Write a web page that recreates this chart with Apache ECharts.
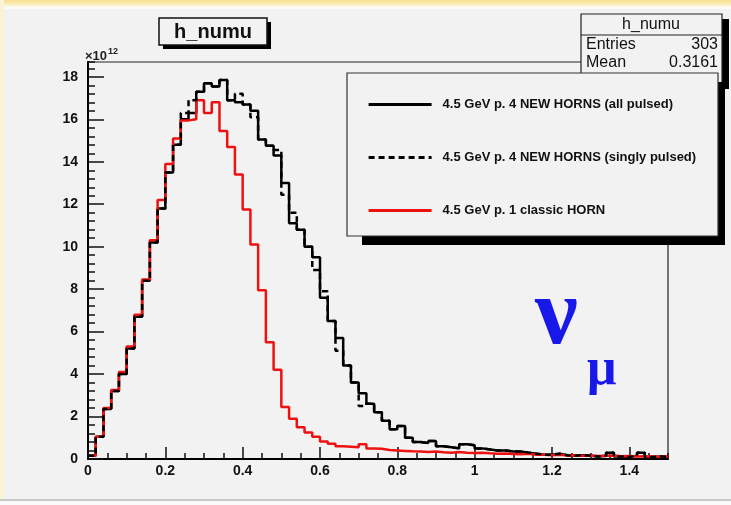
<!DOCTYPE html>
<html><head><meta charset="utf-8">
<script src="https://cdn.jsdelivr.net/npm/echarts@6/dist/echarts.min.js"></script>
<style>html,body{margin:0;padding:0;background:#f2f2f2;}#c{width:731px;height:505px;}</style>
</head><body><div id="c"></div>
<script>
// Histogram binning (75 bins of width 0.02 from 0 to 1.5)
const binStart = 0;
const binWidth = 0.02;

const seriesNames = [
  '4.5 GeV p. 4 NEW HORNS (all pulsed)',
  '4.5 GeV p. 4 NEW HORNS (singly pulsed)',
  '4.5 GeV p. 1 classic HORN'
];

// values in units of 1e12
const allPulsed = [
  0.15,1.05,2.35,3.2,4.0,5.2,6.7,8.4,10.2,11.8,
  13.5,14.8,16.0,16.3,17.3,17.7,17.55,17.85,16.9,16.8,
  16.7,16.4,15.05,14.75,14.3,13.0,11.1,10.8,10.0,9.5,
  7.6,6.5,5.7,4.4,3.6,3.1,2.6,2.2,1.8,1.4,
  1.55,1.0,0.8,0.75,0.85,0.6,0.55,0.5,0.7,0.65,
  0.5,0.45,0.4,0.4,0.35,0.35,0.3,0.25,0.2,0.2,
  0.25,0.18,0.15,0.18,0.15,0.12,0.15,0.3,0.12,0.1,
  0.15,0.3,0.1,0.12,0.1
];
const singlyPulsed = [
  0.15,1.05,2.35,3.2,4.0,5.2,6.7,8.4,10.2,11.8,
  13.5,14.8,16.3,16.9,17.3,17.7,17.55,17.85,16.9,17.2,
  16.7,16.1,15.05,14.75,14.55,12.45,11.6,10.8,10.0,8.9,
  7.9,6.5,5.1,4.4,3.6,2.5,2.6,2.2,1.8,1.4,
  1.55,1.0,0.8,0.75,0.85,0.6,0.55,0.5,0.7,0.65,
  0.5,0.45,0.4,0.4,0.35,0.35,0.3,0.25,0.2,0.2,
  0.25,0.18,0.15,0.18,0.15,0.12,0.15,0.3,0.12,0.1,
  0.15,0.3,0.1,0.12,0.1
];
const classicHorn = [
  0.15,1.05,2.4,3.25,4.1,5.3,6.8,8.45,10.3,12.2,
  13.9,15.1,15.95,16.0,16.9,16.3,16.8,15.45,14.7,13.4,
  11.75,10.1,7.95,5.5,4.2,2.45,1.9,1.5,1.25,1.05,
  0.82,0.72,0.6,0.58,0.55,0.7,0.5,0.48,0.42,0.4,
  0.38,0.36,0.35,0.33,0.35,0.32,0.3,0.33,0.3,0.28,
  0.3,0.27,0.25,0.26,0.24,0.22,0.25,0.2,0.2,0.18,
  0.2,0.17,0.18,0.15,0.17,0.14,0.15,0.16,0.13,0.14,
  0.12,0.13,0.12,0.11,0.12
];

const xTickLabels = ['0','0.2','0.4','0.6','0.8','1','1.2','1.4'];
const yTickLabels = ['0','2','4','6','8','10','12','14','16','18'];

const statsTitle = 'h_numu';
const statsRows = [['Entries','303'],['Mean','0.3161']];
const histTitle = 'h_numu';

function toSteps(vals){
  const pts = vals.map((v,i)=>[binStart + i*binWidth, v]);
  pts.push([binStart + vals.length*binWidth, vals[vals.length-1]]);
  return pts;
}

const FONT = 'Liberation Sans, Arial, Helvetica, sans-serif';
const SERIF = 'Liberation Serif, DejaVu Serif, serif';
const chart = echarts.init(document.getElementById('c'), null, {renderer:'canvas'});

const labelStyle = {fontFamily:FONT, fontWeight:'bold', fontSize:14, color:'#111'};

chart.setOption({
  animation:false,
  backgroundColor:'#f2f2f2',
  grid:{left:88, right:63, top:62, bottom:46, show:true, borderColor:'#222', borderWidth:1.2, backgroundColor:'transparent'},
  xAxis:[{
    type:'value', min:0, max:1.5, interval:0.2, position:'bottom',
    axisLine:{lineStyle:{color:'#000', width:2}},
    axisTick:{inside:true, length:12, lineStyle:{color:'#111', width:1.5}},
    splitLine:{show:false},
    axisLabel:Object.assign({margin:5, showMaxLabel:false,
      formatter:(v)=>{const s=String(+v.toFixed(2)); return xTickLabels.includes(s)?s:'';}}, labelStyle)
  },{
    type:'value', min:0, max:1.5, interval:0.05, position:'bottom',
    axisLine:{show:false},
    axisTick:{inside:true, length:6, lineStyle:{color:'#111', width:1.5}},
    splitLine:{show:false}, axisLabel:{show:false}
  }],
  yAxis:[{
    type:'value', min:0, max:18.7, interval:2, position:'left',
    axisLine:{show:true, lineStyle:{color:'#000', width:2}},
    axisTick:{show:true, inside:true, length:16, lineStyle:{color:'#111', width:1.5}},
    splitLine:{show:false},
    axisLabel:Object.assign({margin:10, showMaxLabel:false,
      formatter:(v)=>{const s=String(Math.round(v)); return (yTickLabels.includes(s) && Math.abs(v-Math.round(v))<1e-6)?s:'';}}, labelStyle)
  },{
    type:'value', min:0, max:18.7, interval:0.4, position:'left',
    axisLine:{show:false},
    axisTick:{show:true, inside:true, length:7, lineStyle:{color:'#111', width:1.5}},
    splitLine:{show:false}, axisLabel:{show:false}
  }],
  legend:{
    left:362, top:93, orient:'vertical', itemWidth:63, itemHeight:14, itemGap:40,
    selectedMode:false, z:60,
    data:seriesNames,
    itemStyle:{color:'rgba(0,0,0,0)', borderWidth:0, opacity:0},
    lineStyle:{width:3.2},
    textStyle:{fontFamily:FONT, fontWeight:'bold', fontSize:13, color:'#111', padding:[0,0,0,6]}
  },
  series:[
    {name:seriesNames[0], type:'line', step:'end', symbol:'none', z:2, xAxisIndex:0, yAxisIndex:0,
     lineStyle:{color:'#000', width:2.5}, itemStyle:{color:'#000'}, data:toSteps(allPulsed)},
    {name:seriesNames[1], type:'line', step:'end', symbol:'none', z:4, xAxisIndex:0, yAxisIndex:0,
     lineStyle:{color:'#000', width:2.5, type:[6,4]}, itemStyle:{color:'#000'}, data:toSteps(singlyPulsed)},
    {name:seriesNames[2], type:'line', step:'end', symbol:'none', z:3, xAxisIndex:0, yAxisIndex:0,
     lineStyle:{color:'#ee1111', width:2.5}, itemStyle:{color:'#ee1111'}, data:toSteps(classicHorn)}
  ],
  graphic:[
    // window decorations
    {type:'rect', z:1, shape:{x:0,y:0,width:731,height:7}, style:{fill:new echarts.graphic.LinearGradient(0,0,0,1,[{offset:0,color:'#f7df8a'},{offset:0.7,color:'#fbefc4'},{offset:1,color:'#fdfaf0'}])}},
    {type:'rect', z:1, shape:{x:0,y:7,width:731,height:2}, style:{fill:'#fbfbfb'}},
    {type:'rect', z:1, shape:{x:0,y:0,width:4,height:505}, style:{fill:'#fbf3d6'}},
    {type:'rect', z:1, shape:{x:0,y:499,width:731,height:2}, style:{fill:'#c9c9c9'}},
    {type:'rect', z:1, shape:{x:0,y:501,width:731,height:4}, style:{fill:'#fafafa'}},
    // title box
    {type:'rect', z:50, shape:{x:163,y:22,width:108,height:27}, style:{fill:'#000'}},
    {type:'rect', z:51, shape:{x:159,y:18,width:108,height:27}, style:{fill:'#f2f2f2', stroke:'#111', lineWidth:1.5}},
    {type:'text', z:52, style:{x:213, y:32, text:histTitle, align:'center', verticalAlign:'middle', font:'bold 20px '+FONT, fill:'#111'}},
    // exponent
    {type:'text', z:52, style:{x:85, y:56, verticalAlign:'middle', text:'{a|×10}{b|12}', rich:{a:{font:'bold 13px '+FONT, fill:'#222'}, b:{font:'bold 9px '+FONT, fill:'#222', verticalAlign:'top', padding:[0,0,8,1]}}}},
    // stats box
    {type:'rect', z:50, shape:{x:588,y:19,width:141,height:70}, style:{fill:'#000'}},
    {type:'rect', z:51, shape:{x:581,y:14,width:141,height:75}, style:{fill:'#f2f2f2', stroke:'#222', lineWidth:1.2}},
    {type:'line', z:52, shape:{x1:581,y1:35,x2:722,y2:35}, style:{stroke:'#222', lineWidth:1.2}},
    {type:'text', z:52, style:{x:651, y:25, text:statsTitle, align:'center', verticalAlign:'middle', font:'16px '+FONT, fill:'#111'}},
    {type:'text', z:52, style:{x:586, y:45, text:statsRows[0][0], verticalAlign:'middle', font:'16px '+FONT, fill:'#111'}},
    {type:'text', z:52, style:{x:718, y:45, text:statsRows[0][1], align:'right', verticalAlign:'middle', font:'16px '+FONT, fill:'#111'}},
    {type:'text', z:52, style:{x:586, y:63, text:statsRows[1][0], verticalAlign:'middle', font:'16px '+FONT, fill:'#111'}},
    {type:'text', z:52, style:{x:718, y:63, text:statsRows[1][1], align:'right', verticalAlign:'middle', font:'16px '+FONT, fill:'#111'}},
    // legend frame + shadow
    {type:'rect', z:53, shape:{x:362,y:82,width:363,height:163}, style:{fill:'#000'}},
    {type:'rect', z:54, shape:{x:347,y:73,width:371,height:163}, style:{fill:'#f2f2f2', stroke:'#333', lineWidth:1.2}},
    // nu_mu label
    {type:'text', z:52, style:{x:535, y:366, text:'ν', verticalAlign:'bottom', font:'bold 96px '+SERIF, fill:'#1818e8'}},
    {type:'text', z:52, style:{x:587, y:397, text:'μ', verticalAlign:'bottom', font:'bold 52px '+SERIF, fill:'#1818e8'}}
  ]
});
</script></body></html>
